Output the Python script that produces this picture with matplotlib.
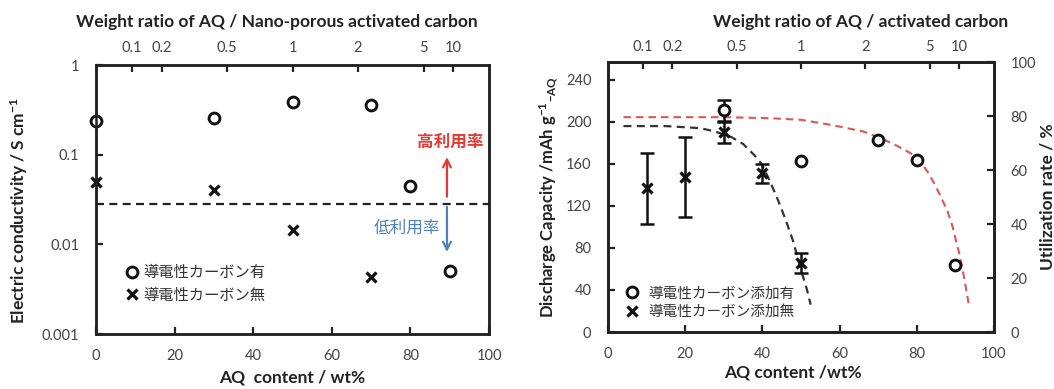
import numpy as np
import matplotlib
matplotlib.use("Agg")
import matplotlib.pyplot as plt
from matplotlib.ticker import FixedLocator, FixedFormatter, NullLocator

plt.rcParams['font.family'] = ['Lato', 'Noto Sans CJK JP', 'DejaVu Sans']
plt.rcParams['mathtext.fontset'] = 'custom'
plt.rcParams['mathtext.rm'] = 'Lato'
plt.rcParams['mathtext.bf'] = 'Lato:bold'
plt.rcParams['mathtext.it'] = 'Lato:italic'
plt.rcParams['axes.unicode_minus'] = False

# ---------------- data ----------------
# Left chart: electric conductivity (S/cm) vs AQ content (wt%)
cond_with_x = [0, 30, 50, 70, 80, 90]
cond_with_y = [0.235, 0.255, 0.385, 0.355, 0.045, 0.0051]
cond_without_x = [0, 30, 50, 70]
cond_without_y = [0.050, 0.040, 0.0145, 0.0043]
cond_threshold = 0.028

# Top axis: weight ratio AQ / carbon
ratio_ticks = [0.1, 0.2, 0.5, 1, 2, 5, 10]
ratio_labels = ['0.1', '0.2', '0.5', '1', '2', '5', '10']

# Right chart: discharge capacity (mAh/g-AQ) vs AQ content (wt%)
cap_with_x = [30, 50, 70, 80, 90]
cap_with_y = [211, 163, 183, 164, 64]
cap_with_err = [10, 0, 0, 0, 0]
cap_without_x = [10, 20, 30, 40, 50]
cap_without_y = [137, 148, 190, 151, 66]
cap_without_err_lo = [34, 38.5, 10, 9, 9.5]
cap_without_err_hi = [33, 38, 10, 9, 9.5]

# Dashed guide curves
red_x = [4, 15, 30, 42, 50, 58, 66, 71, 75, 78.5, 80.6, 82.8, 84.5, 86.2, 88.0, 89.3, 90.1, 91.2, 91.9, 92.5, 93.4]
red_y = [204.5, 204.5, 204.5, 203.5, 202, 197, 191, 184, 177, 170, 163.5, 152.5, 141.5, 129, 114.5, 100, 87.5, 72, 59, 46.5, 27.5]
blk_x = [4, 15, 24, 28, 32, 35, 38, 40, 42, 44, 46, 48, 50, 51.5, 52.5]
blk_y = [196, 196, 194, 190.5, 185.5, 179, 168, 159, 143, 126, 107, 86, 59, 41, 26]

cap_max = 257  # theoretical capacity of AQ (100 % utilization)

legend_left = ['導電性カーボン有', '導電性カーボン無']
legend_right = ['導電性カーボン添加有', '導電性カーボン添加無']


def ratio_to_pct(r):
    r = np.asarray(r, dtype=float)
    return 100 * r / (1 + r)


# ---------------- figure ----------------
W, H = 1054, 389
fig = plt.figure(figsize=(W / 100, H / 100), dpi=100)

def px_axes(l, t, r, b):
    return fig.add_axes([l / W, 1 - b / H, (r - l) / W, (b - t) / H])

SPINE = '#222222'
TICKC = '#444444'
CJK = ['Noto Sans CJK JP', 'DejaVu Sans']

def style_axes(a):
    for s in a.spines.values():
        s.set_linewidth(1.8)
        s.set_color(SPINE)

# ---- Left chart ----
ax1 = px_axes(96, 65, 489, 334)
style_axes(ax1)
ax1.set_yscale('log')
ax1.set_xlim(0, 100)
ax1.set_ylim(0.001, 1)
ax1.yaxis.set_major_locator(FixedLocator([0.001, 0.01, 0.1, 1]))
ax1.yaxis.set_major_formatter(FixedFormatter(['0.001', '0.01', '0.1', '1']))
ax1.yaxis.set_minor_locator(NullLocator())
ax1.set_xticks([0, 20, 40, 60, 80, 100])
ax1.tick_params(direction='in', length=5, width=1.6, color=SPINE,
                labelsize=10.5, labelcolor=TICKC, pad=11)
ax1.tick_params(axis='y', pad=12)

ax1.axhline(cond_threshold, color='#222222', lw=1.6, ls=(0, (3.6, 2.4)), zorder=2)
l1, = ax1.plot(cond_with_x, cond_with_y, ls='none', marker='o', ms=7.8,
               mfc='white', mec='#111111', mew=2.1, clip_on=False, zorder=4)
l2, = ax1.plot(cond_without_x, cond_without_y, ls='none', marker='x', ms=7.3,
               mec='#111111', mew=2.3, clip_on=False, zorder=4)

ax1.set_xlabel('AQ  content / wt%', fontsize=12.5, fontweight='bold', color='#222222')
ax1.xaxis.set_label_coords(0.5, -0.132)
ax1.set_ylabel('Electric conductivity / S cm$^{\\mathbf{-1}}$', fontsize=12.5,
               fontweight='bold', color='#222222')
ax1.yaxis.set_label_coords(-0.168, 0.46)

# arrows & annotations
ax1.annotate('', xy=(89.3, 0.094), xytext=(89.3, 0.034),
             arrowprops=dict(arrowstyle='->', color='#e53935', lw=1.6,
                             mutation_scale=14, shrinkA=0, shrinkB=0))
ax1.text(90.1, 0.139, '高利用率', color='#e53935', fontsize=12, fontweight='bold',
         ha='center', va='center', family=CJK)
ax1.annotate('', xy=(89.3, 0.0082), xytext=(89.3, 0.0262),
             arrowprops=dict(arrowstyle='->', color='#4f81bd', lw=1.6,
                             mutation_scale=14, shrinkA=0, shrinkB=0))
ax1.text(87.6, 0.0150, '低利用率', color='#4f81bd', fontsize=12,
         ha='right', va='center', family=CJK)

leg1 = ax1.legend([l1, l2], legend_left, loc='center left',
                  bbox_to_anchor=(0.072, 0.186), frameon=False, borderpad=0,
                  handlelength=1.0, handletextpad=0.25, labelspacing=0.35,
                  borderaxespad=0, prop={'family': CJK, 'size': 11})
for t in leg1.get_texts():
    t.set_color('#333333')

ax1t = ax1.twiny()
style_axes(ax1t)
ax1t.set_xlim(0, 100)
ax1t.xaxis.set_major_locator(FixedLocator(ratio_to_pct(ratio_ticks)))
ax1t.xaxis.set_major_formatter(FixedFormatter(ratio_labels))
ax1t.tick_params(direction='in', length=5, width=1.6, color=SPINE,
                 labelsize=10.5, labelcolor=TICKC, pad=7)

fig.text(277 / W, 1 - 22 / H, 'Weight ratio of AQ / Nano-porous activated carbon',
         ha='center', va='center', fontsize=12.5, fontweight='bold', color='#222222')

# ---- Right chart ----
ax2 = px_axes(608, 62, 994, 332)
style_axes(ax2)
ax2.set_xlim(0, 100)
ax2.set_ylim(0, cap_max)
ax2.set_xticks([0, 20, 40, 60, 80, 100])
ax2.set_yticks([0, 40, 80, 120, 160, 200, 240])
ax2.tick_params(direction='in', length=5, width=1.6, color=SPINE,
                labelsize=10.5, labelcolor=TICKC, pad=11)
ax2.tick_params(axis='y', pad=12)

ax2.plot(red_x, red_y, color='#e05555', lw=1.5, ls=(0, (3.6, 2.4)), zorder=2)
ax2.plot(blk_x, blk_y, color='#333333', lw=1.6, ls=(0, (3.6, 2.4)), zorder=2)

wx = np.array(cap_with_x); wy = np.array(cap_with_y); we = np.array(cap_with_err)
m = we > 0
ax2.errorbar(wx[m], wy[m], yerr=we[m], fmt='none', ecolor='#111111',
             elinewidth=1.8, capsize=5, capthick=1.8, zorder=3)
c1, = ax2.plot(cap_with_x, cap_with_y, ls='none', marker='o', ms=7.8,
               mfc='white', mec='#111111', mew=2.1, zorder=4)
ax2.errorbar(cap_without_x, cap_without_y,
             yerr=[cap_without_err_lo, cap_without_err_hi], fmt='none',
             ecolor='#111111', elinewidth=1.8, capsize=5, capthick=1.8, zorder=3)
c2, = ax2.plot(cap_without_x, cap_without_y, ls='none', marker='x', ms=7.3,
               mec='#111111', mew=2.3, zorder=4)

ax2.set_xlabel('AQ content /wt%', fontsize=12.5, fontweight='bold', color='#222222')
ax2.xaxis.set_label_coords(0.48, -0.122)
ax2.set_ylabel('Discharge Capacity /mAh g$^{\\mathbf{-1}}$$_{\\mathbf{-AQ}}$',
               fontsize=12, fontweight='bold', color='#222222')
ax2.yaxis.set_label_coords(-0.124, 0.5)

leg2 = ax2.legend([c1, c2], legend_right, loc='center left',
                  bbox_to_anchor=(0.043, 0.109), frameon=False, borderpad=0,
                  handlelength=1.0, handletextpad=0.65, labelspacing=0.3,
                  borderaxespad=0, prop={'family': CJK, 'size': 10.5})
for t in leg2.get_texts():
    t.set_color('#333333')

ax2r = ax2.twinx()
style_axes(ax2r)
ax2r.set_ylim(0, 100)
ax2r.set_yticks([0, 20, 40, 60, 80, 100])
ax2r.tick_params(direction='in', length=5, width=1.6, color=SPINE,
                 labelsize=10.5, labelcolor=TICKC, pad=12)
ax2r.set_ylabel('Utilization rate / %', fontsize=12.5, fontweight='bold', color='#222222')
ax2r.yaxis.set_label_coords(1.117, 0.5)

ax2t = ax2.twiny()
style_axes(ax2t)
ax2t.set_xlim(0, 100)
ax2t.xaxis.set_major_locator(FixedLocator(ratio_to_pct(ratio_ticks)))
ax2t.xaxis.set_major_formatter(FixedFormatter(ratio_labels))
ax2t.tick_params(direction='in', length=5, width=1.6, color=SPINE,
                 labelsize=10.5, labelcolor=TICKC, pad=6)

fig.text(861 / W, 1 - 22 / H, 'Weight ratio of AQ / activated carbon',
         ha='center', va='center', fontsize=12.5, fontweight='bold', color='#222222')

fig.savefig('out.png', dpi=100)
